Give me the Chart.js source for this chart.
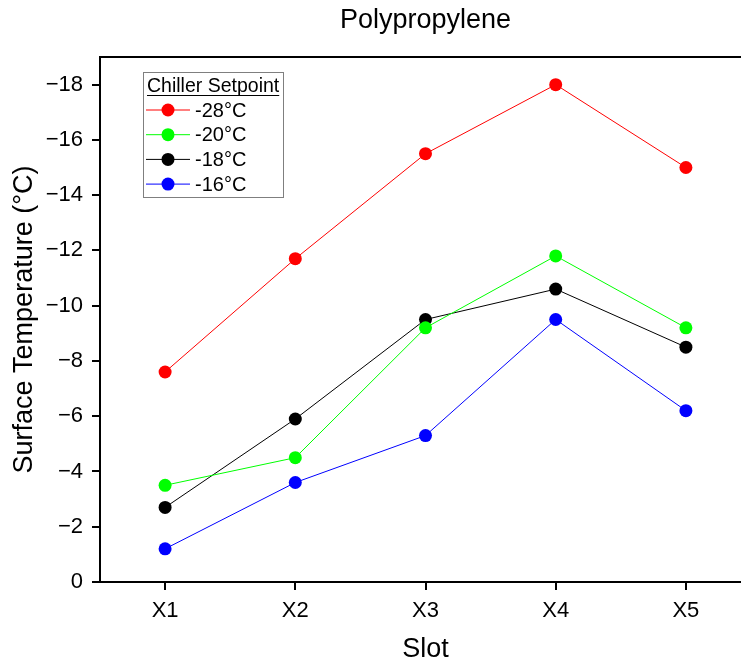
<!DOCTYPE html>
<html>
<head>
<meta charset="utf-8">
<title>Polypropylene</title>
<script src="https://cdn.jsdelivr.net/npm/chart.js@4.4.0/dist/chart.umd.min.js"></script>
<style>
  html, body { margin: 0; padding: 0; overflow: hidden; background: #fff; }
  canvas { display: block; }
</style>
</head>
<body>
<canvas id="chart" width="760" height="663"></canvas>
<script>
  // Surface temperature per slot, one series per chiller setpoint
  const slots = ["X1", "X2", "X3", "X4", "X5"];
  const setpoints = ["-28°C", "-20°C", "-18°C", "-16°C"];
  const temp28 = [-7.6, -11.7, -15.5, -18.0, -15.0];
  const temp20 = [-3.5, -4.5, -9.2, -11.8, -9.2];
  const temp18 = [-2.7, -5.9, -9.5, -10.6, -8.5];
  const temp16 = [-1.2, -3.6, -5.3, -9.5, -6.2];
  const seriesColors = ["#ff0000", "#00ff00", "#000000", "#0000ff"];
  const yTickValues = [0, -2, -4, -6, -8, -10, -12, -14, -16, -18];

  const FONT = "'Liberation Sans', Arial, sans-serif";

  // Title, top frame line and the boxed legend
  const decorations = {
    id: "decorations",
    afterDraw(chart) {
      const { ctx, chartArea } = chart;
      ctx.save();

      ctx.strokeStyle = "#000";
      ctx.lineWidth = 2;
      ctx.beginPath();
      ctx.moveTo(chartArea.left - 1, chartArea.top);
      ctx.lineTo(chartArea.right, chartArea.top);
      ctx.stroke();

      ctx.fillStyle = "#000";
      ctx.font = "27px " + FONT;
      ctx.textAlign = "center";
      ctx.textBaseline = "middle";
      ctx.fillText("Polypropylene", (chartArea.left + chartArea.right) / 2, 21);

      // legend box
      const bx = 143, by = 72, bw = 140, bh = 125;
      ctx.strokeStyle = "#7f7f7f";
      ctx.lineWidth = 1;
      ctx.strokeRect(bx + 0.5, by + 0.5, bw, bh);

      ctx.font = "19.5px " + FONT;
      ctx.textAlign = "left";
      ctx.textBaseline = "alphabetic";
      const head = "Chiller Setpoint";
      ctx.fillText(head, 147, 92);
      const hw = ctx.measureText(head).width;
      ctx.strokeStyle = "#000";
      ctx.beginPath();
      ctx.moveTo(147, 95.5);
      ctx.lineTo(147 + hw, 95.5);
      ctx.stroke();

      ctx.font = "20px " + FONT;
      ctx.textBaseline = "middle";
      setpoints.forEach((name, i) => {
        const y = 110 + i * 24.7;
        ctx.strokeStyle = seriesColors[i];
        ctx.lineWidth = 1;
        ctx.beginPath();
        ctx.moveTo(146, y);
        ctx.lineTo(190, y);
        ctx.stroke();
        ctx.fillStyle = seriesColors[i];
        ctx.beginPath();
        ctx.arc(168, y, 6.5, 0, Math.PI * 2);
        ctx.fill();
        ctx.fillStyle = "#000";
        ctx.fillText(name, 195, y + 1);
      });

      ctx.restore();
    }
  };

  function makeSeries(label, values, color) {
    return {
      label: label,
      data: values,
      borderColor: color,
      backgroundColor: color,
      borderWidth: 1,
      pointRadius: 6.5,
      pointBorderWidth: 0,
      pointHoverRadius: 6.5,
      tension: 0
    };
  }

  new Chart(document.getElementById("chart"), {
    type: "line",
    data: {
      labels: slots,
      datasets: [
        makeSeries(setpoints[0], temp28, seriesColors[0]),
        makeSeries(setpoints[1], temp20, seriesColors[1]),
        makeSeries(setpoints[2], temp18, seriesColors[2]),
        makeSeries(setpoints[3], temp16, seriesColors[3])
      ]
    },
    options: {
      responsive: false,
      animation: false,
      layout: { padding: { top: 57, right: 9, left: 0, bottom: 0 } },
      plugins: {
        legend: { display: false },
        title: { display: false },
        tooltip: { enabled: false }
      },
      scales: {
        x: {
          type: "category",
          offset: true,
          afterFit: (scale) => { scale.height = 81; },
          grid: {
            offset: false,
            drawOnChartArea: false,
            drawTicks: true,
            tickLength: 8,
            color: "#000",
            lineWidth: 2
          },
          border: { color: "#000", width: 2 },
          ticks: {
            color: "#000",
            font: { family: FONT, size: 22 },
            padding: 8,
            maxRotation: 0
          },
          title: {
            display: true,
            text: "Slot",
            color: "#000",
            font: { family: FONT, size: 27, lineHeight: 1 },
            padding: { top: 0, bottom: 0 }
          }
        },
        y: {
          type: "linear",
          reverse: true,
          min: -19,
          max: 0,
          afterFit: (scale) => { scale.width = 100; },
          afterBuildTicks: (scale) => {
            scale.ticks = yTickValues.map((v) => ({ value: v }));
          },
          grid: {
            drawOnChartArea: false,
            drawTicks: true,
            tickLength: 8,
            color: "#000",
            lineWidth: 2
          },
          border: { color: "#000", width: 2 },
          ticks: {
            color: "#000",
            font: { family: FONT, size: 22 },
            padding: 9,
            callback: (v) => (v === 0 ? "0" : "\u2212" + Math.abs(v))
          },
          title: {
            display: true,
            text: "Surface Temperature (°C)",
            color: "#000",
            font: { family: FONT, size: 27, lineHeight: 1 },
            padding: { top: 11, bottom: 0 }
          }
        }
      }
    },
    plugins: [decorations]
  });
</script>
</body>
</html>
